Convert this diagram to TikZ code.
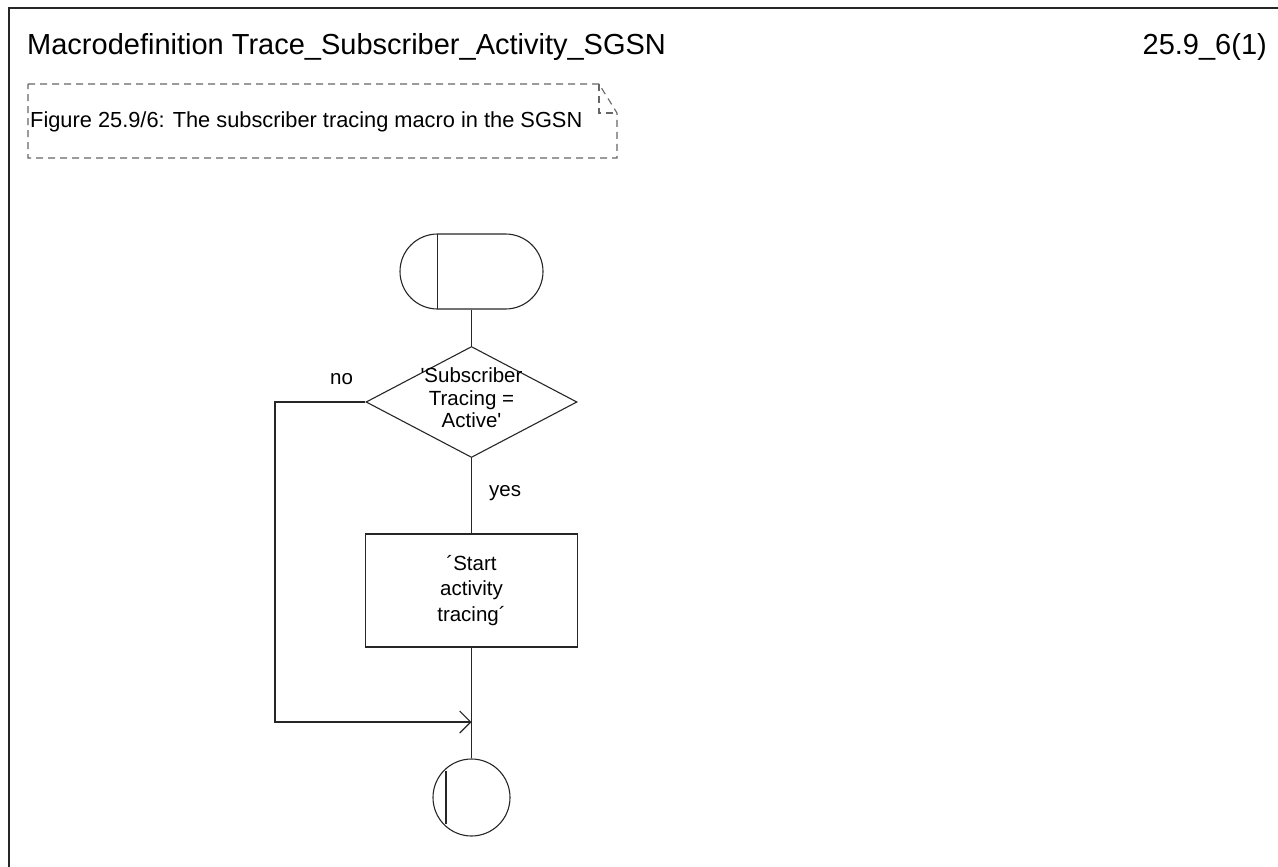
\documentclass[tikz,border=0pt]{standalone}
\usepackage{fontspec}
\newfontfamily\af{Liberation Sans}
\usetikzlibrary{shapes.geometric,shapes.misc,arrows.meta,calc}
\tikzset{
  ln/.style={line width=1.1pt, draw=black!85},
  cmt/.style={line width=1.1pt, draw=black!60, dash pattern=on 7pt off 5pt},
  txt/.style={inner sep=0pt, font=\af\fontsize{20.5}{22.5}\selectfont, text=black},
  startsym/.style={ln, rounded rectangle, minimum width=143pt, minimum height=75pt, inner sep=0pt},
  decision/.style={ln, diamond, minimum width=211pt, minimum height=111pt, inner sep=0pt},
  taskbox/.style={ln, rectangle, minimum width=212pt, minimum height=113pt, inner sep=0pt, align=center,
     font=\af\fontsize{20.5}{25.5}\selectfont},
  endsym/.style={ln, circle, minimum size=77pt, inner sep=0pt},
  arr/.style={ln, -{Straight Barb[length=11pt,width=22pt,line width=1.1pt]}}
}
\begin{document}
\begin{tikzpicture}[x=1pt,y=-1pt]
\useasboundingbox (0,0) rectangle (1278,867);
% frame
\draw[ln] (9,867) -- (9,8) -- (1278,8);
\node[txt, anchor=base west, font=\af\fontsize{29}{34}\selectfont] (title) at (27,55) {Macrodefinition Trace\_Subscriber\_Activity\_SGSN};
\node[txt, anchor=base east, font=\af\fontsize{29}{34}\selectfont] (pageno) at (1267,55) {25.9\_6(1)};
% comment box
\draw[cmt] (28,84) -- (599,84) -- (617,113) -- (617,158) -- (28,158) -- cycle;
\draw[cmt] (599,84) -- (599,113) -- (617,113);
\node[txt, anchor=base west, font=\af\fontsize{21.8}{26}\selectfont] (comment) at (30,127) {Figure 25.9/6: The subscriber tracing macro in the SGSN};
% flowchart
\node[startsym] (start) at (471.5,271.5) {};
\draw[ln] ($(start.center)+(-34,-37.5)$) -- ($(start.center)+(-34,37.5)$);
\node[decision] (dec) at (471.5,402) {};
\node[txt, align=center] (dectext) at (471.5,398) {'Subscriber\\Tracing =\\Active'};
\node[taskbox] (task) at (471.5,590.5) {´Start\\activity\\tracing´};
\node[endsym] (end) at (471.5,797.5) {};
\draw[ln] ($(end.center)+(-25.5,-26.5)$) -- ($(end.center)+(-25.5,26.5)$);
\coordinate (join) at (471.5,722);
\coordinate (corner) at (275,722);
\draw[ln] (start.south) -- (dec.north);
\draw[ln] (dec.south) -- (task.north);
\draw[ln] (task.south) -- (end.north);
\draw[arr] (dec.west) -| (corner) -- (join);
\node[txt, anchor=base west] (nolbl) at (330,384) {no};
\node[txt, anchor=base west] (yeslbl) at (489,496) {yes};
\end{tikzpicture}
\end{document}
